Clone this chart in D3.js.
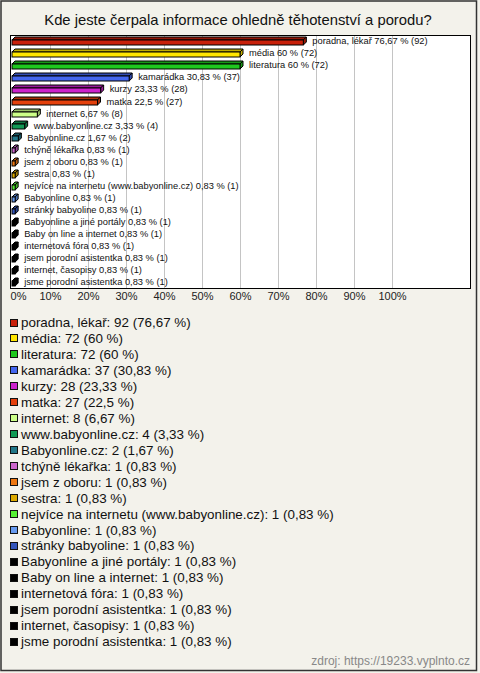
<!DOCTYPE html>
<html><head><meta charset="utf-8">
<script src="https://cdn.jsdelivr.net/npm/d3@7/dist/d3.min.js"></script>
<style>
html,body{margin:0;padding:0;background:#f3f2eb;}
svg{display:block;}
</style>
</head><body>
<script>
const title = "Kde jeste čerpala informace ohledně těhotenství a porodu?";
const categories = ["poradna, lékař","média","literatura","kamarádka","kurzy","matka","internet","www.babyonline.cz","Babyonline.cz","tchýně lékařka","jsem z oboru","sestra","nejvíce na internetu (www.babyonline.cz)","Babyonline","stránky babyoline","Babyonline a jiné portály","Baby on line a internet","internetová fóra","jsem porodní asistentka","internet, časopisy","jsme porodní asistentka"];
const counts = [92,72,72,37,28,27,8,4,2,1,1,1,1,1,1,1,1,1,1,1,1];
const percents = [76.67,60,60,30.83,23.33,22.5,6.67,3.33,1.67,0.83,0.83,0.83,0.83,0.83,0.83,0.83,0.83,0.83,0.83,0.83,0.83];
const percentLabels = ["76,67","60","60","30,83","23,33","22,5","6,67","3,33","1,67","0,83","0,83","0,83","0,83","0,83","0,83","0,83","0,83","0,83","0,83","0,83","0,83"];
const colors = ["#c8200a","#ffe600","#1ec81e","#4466ee","#cc22cc","#e4400c","#ccff88","#119955","#227788","#cc66cc","#ee7711","#ddaa00","#55ee33","#6699ee","#3355bb","#000000","#000000","#000000","#000000","#000000","#000000"];
const xTicks = [0,10,20,30,40,50,60,70,80,90,100];
const source = "zdroj: https://19233.vyplnto.cz";

const W = 480, H = 673;
const svg = d3.select("body").append("svg").attr("width", W).attr("height", H);
const font = "'Liberation Sans', Arial, sans-serif";

// outer frame
svg.append("rect").attr("x",1).attr("y",1).attr("width",475.5).attr("height",669.5)
  .attr("fill","#f3f2eb").attr("stroke","#333").attr("stroke-width",1.5);

svg.append("text").attr("x",238).attr("y",20).attr("text-anchor","middle").attr("dy","0.35em")
  .attr("font-family",font).attr("font-size","14.8px").attr("fill","#111").text(title);

const plot = {left:10.5, top:35.5, right:470.5, bottom:288.5};
svg.append("rect").attr("x",plot.left).attr("y",plot.top).attr("width",plot.right-plot.left).attr("height",plot.bottom-plot.top)
  .attr("fill","#fff").attr("stroke","#000").attr("stroke-width",1);

const x = d3.scaleLinear().domain([0,100]).range([12,392]);
const y = d3.scaleBand().domain(categories).range([36,289]);

// grid
svg.append("g").selectAll("line").data(xTicks.filter(d=>d>0)).join("line")
  .attr("x1",d=>Math.round(x(d))+0.5).attr("x2",d=>Math.round(x(d))+0.5)
  .attr("y1",plot.top+0.5).attr("y2",plot.bottom-0.5).attr("stroke","#c4c4c4").attr("stroke-width",1);

// axis labels
const axis = d3.axisBottom(x).tickValues(xTicks).tickFormat(d=>d+"%").tickSize(0).tickPadding(0);
const ag = svg.append("g").attr("transform","translate(0,292)").call(axis);
ag.select(".domain").remove();
ag.selectAll("text").attr("font-family",font).attr("font-size","11px").attr("fill","#222").attr("dy","0.71em");
ag.selectAll(".tick").filter(d=>d===0).select("text").attr("x",6);

const depth = 3;
const bars = svg.append("g");
categories.forEach((c,i)=>{
  const cy = y(c) + y.bandwidth()/2;
  const x0 = x(0), x1 = x(percents[i]);
  const yt = Math.round(cy) - 2, yb = yt + 5;
  const col = d3.color(colors[i]);
  const dark = col.darker(0.8).toString();
  bars.append("path").attr("d",`M${x0},${yt}L${x0+depth},${yt-depth}L${x1+depth},${yt-depth}L${x1},${yt}Z`)
    .attr("fill",dark).attr("stroke","#000").attr("stroke-width",1);
  bars.append("path").attr("d",`M${x1},${yt}L${x1+depth},${yt-depth}L${x1+depth},${yb-depth}L${x1},${yb}Z`)
    .attr("fill",dark).attr("stroke","#000").attr("stroke-width",1);
  bars.append("rect").attr("x",x0).attr("y",yt).attr("width",x1-x0).attr("height",yb-yt)
    .attr("fill",colors[i]).attr("stroke","#000").attr("stroke-width",1);
  bars.append("text").attr("x",x1+9).attr("y",cy-1).attr("dy","0.35em")
    .attr("font-family",font).attr("font-size","9.3px").attr("fill","#111")
    .text(`${c} ${percentLabels[i]} % (${counts[i]})`);
});

// legend
const leg = svg.append("g");
const ly = d3.scaleLinear().domain([0,20]).range([322.5,641.5]);
categories.forEach((c,i)=>{
  const cy = ly(i);
  leg.append("rect").attr("x",10.5).attr("y",Math.round(cy)-3.5).attr("width",7).attr("height",7)
    .attr("fill",colors[i]).attr("stroke","#111").attr("stroke-width",1);
  leg.append("text").attr("x",21).attr("y",cy).attr("dy","0.35em")
    .attr("font-family",font).attr("font-size","13.4px").attr("fill","#111")
    .text(`${c}: ${counts[i]} (${percentLabels[i]} %)`);
});

svg.append("text").attr("x",470).attr("y",661).attr("dy","0.35em").attr("text-anchor","end")
  .attr("font-family",font).attr("font-size","12px").attr("fill","#888").text(source);
</script>
</body></html>
